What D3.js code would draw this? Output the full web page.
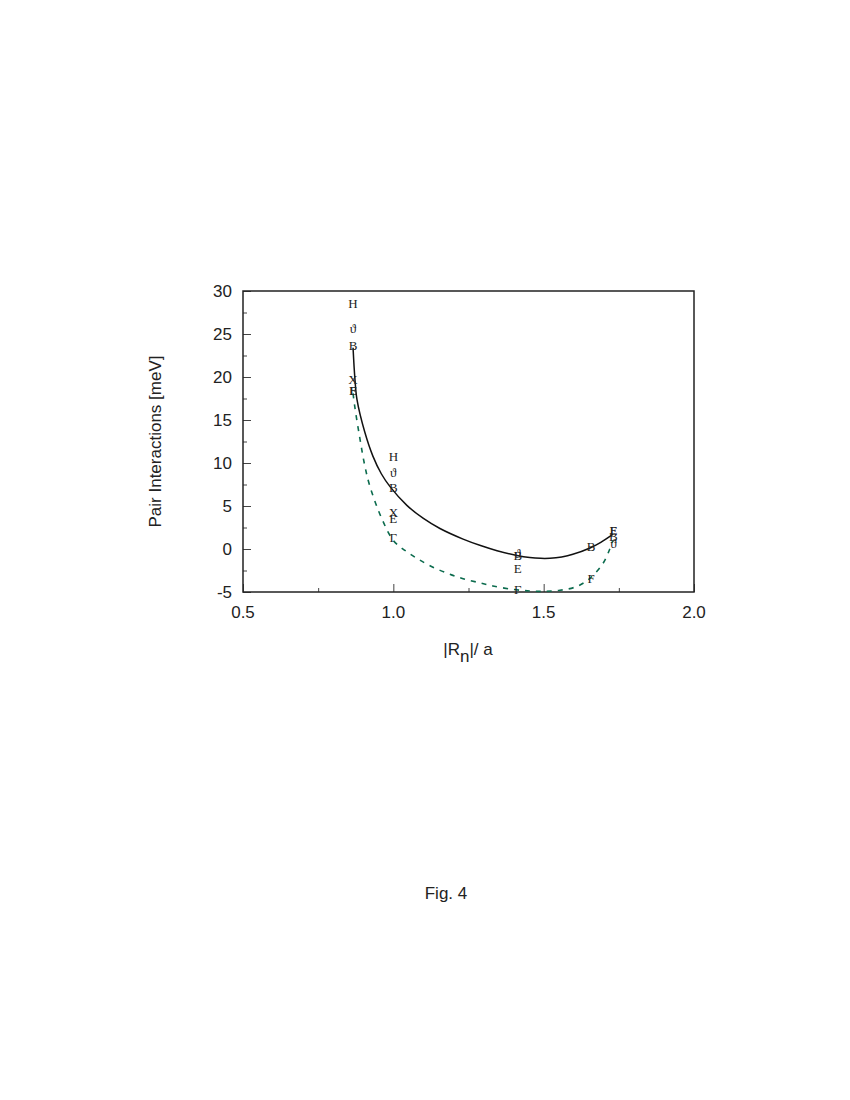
<!DOCTYPE html>
<html>
<head>
<meta charset="utf-8">
<script src="https://cdn.jsdelivr.net/npm/d3@7"></script>
<style>
  body { margin: 0; background: #fff; }
  svg text { font-family: "Liberation Sans", Arial, sans-serif; }
</style>
</head>
<body>
<script>
// fitted curves
var solidX = [0.866, 0.872, 0.879, 0.905, 0.932, 0.96, 0.989, 1.045, 1.1, 1.155, 1.232, 1.29, 1.345, 1.411, 1.454, 1.49, 1.521, 1.56, 1.597, 1.654, 1.69, 1.730];
var solidY = [23.4, 19.9, 17.4, 13.6, 10.8, 8.75, 7.25, 5.07, 3.55, 2.38, 1.15, 0.4, -0.2, -0.76, -1.0, -1.09, -1.08, -0.92, -0.62, 0.12, 0.78, 1.7];

var dashX = [0.866, 0.872, 0.889, 0.905, 0.922, 0.962, 1.0, 1.04, 1.079, 1.122, 1.178, 1.232, 1.29, 1.331, 1.398, 1.454, 1.498, 1.554, 1.611, 1.654, 1.697, 1.720, 1.730];
var dashY = [18.1, 16.5, 12.8, 9.7, 7.3, 3.5, 1.0, -0.2, -1.1, -1.95, -2.8, -3.45, -3.95, -4.3, -4.7, -4.88, -4.92, -4.8, -4.35, -3.4, -1.7, 0.0, 1.0];

// point symbols (letters as in the original)
var symH = { ch: "H", x: [0.866, 1.0], y: [28.6, 10.8] };
var symTheta = { ch: "\u03d1", x: [0.866, 1.0, 1.414, 1.732], y: [25.7, 8.9, -0.5, 0.6] };
var symB = { ch: "B", x: [0.866, 1.0, 1.414, 1.658, 1.732], y: [23.7, 7.1, -0.8, 0.35, 1.5] };
var symX = { ch: "X", x: [0.866, 1.0], y: [19.7, 4.3] };
var symE = { ch: "E", x: [0.866, 1.0, 1.414, 1.732], y: [18.4, 3.6, -2.3, 2.2] };
var symF = { ch: "F", x: [0.866, 1.658, 1.732], y: [18.4, -3.4, 2.2] };
var symGamma = { ch: "\u0393", x: [1.0, 1.414], y: [1.3, -4.65] };

var xTicks = [0.5, 1.0, 1.5, 2.0];
var yTicks = [-5, 0, 5, 10, 15, 20, 25, 30];

var width = 850, height = 1100;
var padL = 243, padR = 694, padT = 291, padB = 592;

var svg = d3.select("body").append("svg")
    .attr("width", width)
    .attr("height", height);

var x = d3.scaleLinear().domain([0.5, 2.0]).range([padL, padR]);
var y = d3.scaleLinear().domain([-5, 30]).range([padB, padT]);

// inward ticks, major + minor
var xAxis = d3.axisBottom(x).tickValues(d3.range(0.5, 2.01, 0.25))
    .tickSize(-8).tickFormat("");
var gx = svg.append("g").attr("transform", "translate(0," + padB + ")").call(xAxis);
gx.selectAll(".tick line").attr("y2", function(d) {
    return Math.abs((d * 2) - Math.round(d * 2)) < 1e-6 ? -8 : -4;
});

var yAxis = d3.axisLeft(y).tickValues(d3.range(-5, 30.01, 2.5))
    .tickSize(-8).tickFormat("");
var gy = svg.append("g").attr("transform", "translate(" + padL + ",0)").call(yAxis);
gy.selectAll(".tick line").attr("x2", function(d) {
    return d % 5 == 0 ? 8 : 4;
});
svg.selectAll(".domain").remove();
svg.selectAll(".tick line").attr("stroke", "#444").attr("stroke-width", 1);

svg.append("rect")
    .attr("x", padL).attr("y", padT)
    .attr("width", padR - padL).attr("height", padB - padT)
    .attr("fill", "none").attr("stroke", "#222").attr("stroke-width", 1.5);

// tick labels
svg.selectAll(".xl").data(xTicks).enter().append("text")
    .attr("x", function(d) { return x(d); })
    .attr("y", 618)
    .attr("text-anchor", "middle")
    .attr("font-size", 17)
    .attr("fill", "#222")
    .text(function(d) { return d.toFixed(1); });

svg.selectAll(".yl").data(yTicks).enter().append("text")
    .attr("x", 232)
    .attr("y", function(d) { return y(d); })
    .attr("dy", "0.36em")
    .attr("text-anchor", "end")
    .attr("font-size", 17)
    .attr("fill", "#222")
    .text(function(d) { return d; });

// axis titles
svg.append("text")
    .attr("transform", "translate(161," + ((padT + padB) / 2) + ") rotate(-90)")
    .attr("text-anchor", "middle")
    .attr("font-size", 17)
    .attr("fill", "#222")
    .text("Pair Interactions [meV]");

var xt = svg.append("text")
    .attr("x", 468)
    .attr("y", 655)
    .attr("text-anchor", "middle")
    .attr("font-size", 17)
    .attr("fill", "#222");
xt.append("tspan").text("|R");
xt.append("tspan").attr("dy", 7).text("n");
xt.append("tspan").attr("dy", -7).text("|/ a");

svg.append("text")
    .attr("x", 446)
    .attr("y", 899)
    .attr("text-anchor", "middle")
    .attr("font-size", 17)
    .attr("fill", "#222")
    .text("Fig. 4");

// curves
var line = d3.line()
    .x(function(d) { return x(d[0]); })
    .y(function(d) { return y(d[1]); })
    .curve(d3.curveCatmullRom.alpha(0.5));

svg.append("path")
    .datum(d3.zip(dashX, dashY))
    .attr("d", line)
    .attr("fill", "none")
    .attr("stroke", "#0b6b4d")
    .attr("stroke-width", 1.6)
    .attr("stroke-dasharray", "5,6");

svg.append("path")
    .datum(d3.zip(solidX, solidY))
    .attr("d", line)
    .attr("fill", "none")
    .attr("stroke", "#111")
    .attr("stroke-width", 1.5);

// letter markers
var symbols = [symH, symTheta, symB, symX, symE, symF, symGamma];
symbols.forEach(function(s) {
    svg.selectAll(null).data(d3.zip(s.x, s.y)).enter().append("text")
        .attr("x", function(d) { return x(d[0]); })
        .attr("y", function(d) { return y(d[1]); })
        .attr("dy", "0.35em")
        .attr("text-anchor", "middle")
        .attr("font-size", 13)
        .style("font-family", "'Liberation Serif', 'Times New Roman', serif")
        .attr("fill", "#222")
        .text(s.ch);
});
</script>
</body>
</html>
